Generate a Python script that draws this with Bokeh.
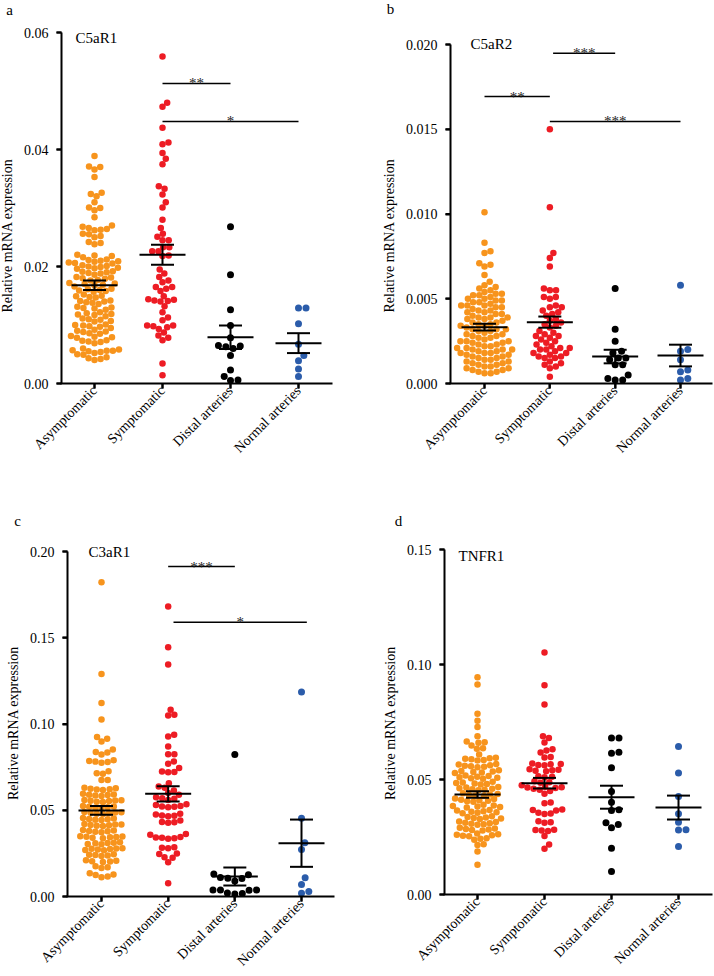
import math
from bokeh.plotting import figure
from bokeh.models import Range1d, FixedTicker, PrintfTickFormatter, Label, ColumnDataSource
from bokeh.layouts import column, row
from bokeh.embed import file_html
from bokeh.resources import INLINE
from bokeh.core.properties import value

# ---------------- data ----------------
groups = ["Asymptomatic", "Symptomatic", "Distal arteries", "Normal arteries"]
colors = ["#F7941D", "#ED1C24", "#000000", "#2B5CAA"]

# Panel a: C5aR1
asym_a = [0.0389, 0.0371, 0.0370, 0.0366, 0.0353, 0.0326, 0.0324, 0.0320, 0.0310, 0.0301,
          0.0300, 0.0296, 0.0284, 0.0270, 0.0266, 0.0263, 0.0262, 0.0264, 0.0268, 0.0256,
          0.0250, 0.0252, 0.0255, 0.0242, 0.0240, 0.0238, 0.0220, 0.0218, 0.0216, 0.0219,
          0.0212, 0.0210, 0.0209, 0.0207, 0.0206, 0.0208, 0.0211, 0.0205, 0.0201, 0.0199,
          0.0198, 0.0202, 0.0196, 0.0200, 0.0197, 0.0192, 0.0190, 0.0188, 0.0189, 0.0191,
          0.0186, 0.0182, 0.0180, 0.0179, 0.0177, 0.0181, 0.0176, 0.0172, 0.0170, 0.0168,
          0.0166, 0.0171, 0.0169, 0.0162, 0.0159, 0.0157, 0.0160, 0.0158, 0.0161, 0.0152,
          0.0149, 0.0147, 0.0150, 0.0148, 0.0142, 0.0140, 0.0138, 0.0139, 0.0141, 0.0136,
          0.0131, 0.0129, 0.0128, 0.0130, 0.0126, 0.0122, 0.0119, 0.0117, 0.0120, 0.0118,
          0.0115, 0.0111, 0.0109, 0.0107, 0.0110, 0.0106, 0.0101, 0.0099, 0.0098, 0.0100,
          0.0097, 0.0095, 0.0092, 0.0089, 0.0088, 0.0090, 0.0086, 0.0085, 0.0081, 0.0079,
          0.0078, 0.0080, 0.0074, 0.0073, 0.0071, 0.0069, 0.0072, 0.0060, 0.0057, 0.0056,
          0.0058, 0.0055, 0.0054, 0.0056, 0.0052, 0.0049, 0.0050, 0.0045, 0.0042, 0.0040,
          0.0043]
sym_a = [0.0559, 0.0480, 0.0473, 0.0437, 0.0412, 0.0409, 0.0394, 0.0384, 0.0375, 0.0337,
         0.0333, 0.0323, 0.0310, 0.0301, 0.0280, 0.0266, 0.0256, 0.0251, 0.0245, 0.0245,
         0.0233, 0.0226, 0.0226, 0.0233, 0.0219, 0.0218, 0.0195, 0.0188, 0.0182, 0.0176,
         0.0173, 0.0165, 0.0162, 0.0165, 0.0158, 0.0149, 0.0143, 0.0141, 0.0140, 0.0142,
         0.0144, 0.0132, 0.0122, 0.0113, 0.0108, 0.0099, 0.0099, 0.0096, 0.0098, 0.0093,
         0.0087, 0.0082, 0.0078, 0.0074, 0.0034, 0.0014]
dist_a = [0.0268, 0.0186, 0.0126, 0.0099, 0.0078, 0.0065, 0.0064, 0.0063, 0.0060, 0.0048,
          0.0023, 0.0012, 0.0006, 0.0005]
norm_a = [0.0129, 0.0129, 0.0102, 0.0067, 0.0048, 0.0039, 0.0025, 0.0012]
mean_a = [0.0168, 0.0220, 0.0079, 0.0069]
sem_a = [0.0008, 0.0017, 0.0020, 0.0017]

# Panel b: C5aR2
asym_b = [0.0101, 0.0083, 0.0078, 0.0077, 0.0071, 0.0070, 0.0069, 0.0064, 0.0060, 0.0058,
          0.0057, 0.0056, 0.0055, 0.0054, 0.0053, 0.0052, 0.0053, 0.0051, 0.0052, 0.0050,
          0.0049, 0.0048, 0.0049, 0.0047, 0.0048, 0.0050, 0.0046, 0.0045, 0.0046, 0.0044,
          0.0045, 0.0046, 0.0043, 0.0042, 0.0041, 0.0042, 0.0040, 0.0041, 0.0043, 0.0039,
          0.0038, 0.0039, 0.0037, 0.0038, 0.0039, 0.0036, 0.0035, 0.0034, 0.0035, 0.0033,
          0.0034, 0.0036, 0.0032, 0.0031, 0.0032, 0.0030, 0.0031, 0.0032, 0.0029, 0.0028,
          0.0027, 0.0028, 0.0026, 0.0027, 0.0029, 0.0025, 0.0024, 0.0025, 0.0023, 0.0024,
          0.0025, 0.0022, 0.0021, 0.0020, 0.0021, 0.0019, 0.0020, 0.0022, 0.0018, 0.0017,
          0.0018, 0.0016, 0.0017, 0.0018, 0.0015, 0.0014, 0.0013, 0.0014, 0.0012, 0.0013,
          0.0015, 0.0011, 0.0010, 0.0011, 0.0009, 0.0010, 0.0008, 0.0007, 0.0006, 0.0007,
          0.0012, 0.0009, 0.0008, 0.0006, 0.0016, 0.0019, 0.0020, 0.0023]
sym_b = [0.0150, 0.0104, 0.0077, 0.0074, 0.0069, 0.0056, 0.0055, 0.0055, 0.0051, 0.0051,
         0.0050, 0.0046, 0.0045, 0.0045, 0.0043, 0.0042, 0.0041, 0.0040, 0.0038, 0.0037,
         0.0036, 0.0035, 0.0034, 0.0033, 0.0031, 0.0030, 0.0029, 0.0028, 0.0028, 0.0027,
         0.0026, 0.0025, 0.0024, 0.0023, 0.0022, 0.0021, 0.0021, 0.0020, 0.0020, 0.0019,
         0.0018, 0.0018, 0.0017, 0.0016, 0.0016, 0.0015, 0.0015, 0.0013, 0.0012, 0.0011,
         0.0010, 0.0009, 0.0004]
dist_b = [0.0056, 0.0032, 0.0025, 0.0019, 0.0018, 0.0015, 0.0015, 0.0014, 0.0011, 0.0011,
          0.0005, 0.0003, 0.0002, 0.0002]
norm_b = [0.0058, 0.0020, 0.0019, 0.0014, 0.0008, 0.0007, 0.0003, 0.0002]
mean_b = [0.00332, 0.00362, 0.00159, 0.00165]
sem_b = [0.00020, 0.00033, 0.00040, 0.00064]

# Panel c: C3aR1
asym_c = [0.1822, 0.1290, 0.1122, 0.1026, 0.0924, 0.0914, 0.0899, 0.0852, 0.0837, 0.0835,
          0.0823, 0.0790, 0.0785, 0.0780, 0.0776, 0.0782, 0.0726, 0.0715, 0.0711, 0.0676,
          0.0676, 0.0630, 0.0625, 0.0620, 0.0622, 0.0628, 0.0618, 0.0595, 0.0590, 0.0585,
          0.0588, 0.0592, 0.0583, 0.0560, 0.0555, 0.0550, 0.0553, 0.0557, 0.0548, 0.0558,
          0.0525, 0.0520, 0.0515, 0.0518, 0.0522, 0.0513, 0.0490, 0.0485, 0.0480, 0.0483,
          0.0487, 0.0478, 0.0488, 0.0455, 0.0450, 0.0445, 0.0448, 0.0452, 0.0443, 0.0420,
          0.0415, 0.0410, 0.0413, 0.0417, 0.0408, 0.0418, 0.0385, 0.0380, 0.0375, 0.0378,
          0.0382, 0.0373, 0.0350, 0.0345, 0.0340, 0.0343, 0.0347, 0.0338, 0.0348, 0.0315,
          0.0310, 0.0305, 0.0308, 0.0312, 0.0303, 0.0280, 0.0275, 0.0270, 0.0273, 0.0277,
          0.0268, 0.0278, 0.0245, 0.0240, 0.0235, 0.0238, 0.0242, 0.0210, 0.0205, 0.0200,
          0.0203, 0.0207, 0.0170, 0.0175, 0.0165, 0.0135, 0.0124, 0.0112, 0.0116, 0.0128]
sym_c = [0.1681, 0.1445, 0.1345, 0.1082, 0.1053, 0.1049, 0.0937, 0.0928, 0.0870, 0.0825,
         0.0824, 0.0783, 0.0769, 0.0745, 0.0725, 0.0722, 0.0720, 0.0657, 0.0638, 0.0630,
         0.0614, 0.0600, 0.0590, 0.0575, 0.0570, 0.0566, 0.0560, 0.0535, 0.0525, 0.0520,
         0.0518, 0.0522, 0.0530, 0.0480, 0.0470, 0.0465, 0.0468, 0.0475, 0.0432, 0.0428,
         0.0430, 0.0440, 0.0362, 0.0358, 0.0342, 0.0338, 0.0335, 0.0340, 0.0345, 0.0285,
         0.0280, 0.0282, 0.0247, 0.0228, 0.0224, 0.0250, 0.0199, 0.0077]
dist_c = [0.0823, 0.0131, 0.0126, 0.0110, 0.0106, 0.0104, 0.0090, 0.0038, 0.0038, 0.0037,
          0.0036, 0.0020, 0.0017, 0.0015]
norm_c = [0.1185, 0.0454, 0.0311, 0.0272, 0.0108, 0.0070, 0.0029, 0.0019]
mean_c = [0.0499, 0.0595, 0.0116, 0.0309]
sem_c = [0.0025, 0.0044, 0.0052, 0.0137]

# Panel d: TNFR1
asym_d = [0.0945, 0.0913, 0.0786, 0.0755, 0.0728, 0.0688, 0.0665, 0.0662, 0.0660, 0.0648,
          0.0636, 0.0634, 0.0609, 0.0595, 0.0590, 0.0585, 0.0592, 0.0588, 0.0583, 0.0565,
          0.0560, 0.0555, 0.0562, 0.0558, 0.0553, 0.0567, 0.0540, 0.0535, 0.0530, 0.0537,
          0.0533, 0.0528, 0.0515, 0.0510, 0.0505, 0.0512, 0.0508, 0.0503, 0.0517, 0.0490,
          0.0485, 0.0480, 0.0487, 0.0483, 0.0478, 0.0465, 0.0460, 0.0455, 0.0462, 0.0458,
          0.0453, 0.0467, 0.0440, 0.0435, 0.0430, 0.0437, 0.0433, 0.0428, 0.0415, 0.0410,
          0.0405, 0.0412, 0.0408, 0.0403, 0.0417, 0.0390, 0.0385, 0.0380, 0.0387, 0.0383,
          0.0378, 0.0365, 0.0360, 0.0355, 0.0362, 0.0358, 0.0353, 0.0367, 0.0340, 0.0335,
          0.0330, 0.0337, 0.0333, 0.0328, 0.0315, 0.0310, 0.0305, 0.0312, 0.0308, 0.0303,
          0.0317, 0.0290, 0.0285, 0.0280, 0.0287, 0.0283, 0.0278, 0.0265, 0.0260, 0.0255,
          0.0262, 0.0258, 0.0253, 0.0245, 0.0238, 0.0242, 0.0219, 0.0215, 0.0187, 0.0129]
sym_d = [0.1052, 0.0910, 0.0826, 0.0688, 0.0680, 0.0661, 0.0632, 0.0626, 0.0617, 0.0598,
         0.0596, 0.0570, 0.0566, 0.0563, 0.0562, 0.0567, 0.0545, 0.0540, 0.0538, 0.0542,
         0.0536, 0.0514, 0.0512, 0.0510, 0.0492, 0.0488, 0.0486, 0.0475, 0.0468, 0.0466,
         0.0463, 0.0465, 0.0460, 0.0455, 0.0450, 0.0438, 0.0400, 0.0397, 0.0370, 0.0367,
         0.0365, 0.0355, 0.0352, 0.0350, 0.0314, 0.0312, 0.0318, 0.0282, 0.0278, 0.0280,
         0.0276, 0.0254, 0.0217, 0.0199]
dist_d = [0.0680, 0.0680, 0.0619, 0.0614, 0.0551, 0.0448, 0.0401, 0.0369, 0.0365, 0.0312,
          0.0304, 0.0290, 0.0201, 0.0100]
norm_d = [0.0643, 0.0528, 0.0426, 0.0351, 0.0314, 0.0281, 0.0280, 0.0209]
mean_d = [0.0435, 0.0484, 0.0423, 0.0378]
sem_d = [0.0014, 0.0023, 0.0050, 0.0052]

# significance comparisons: (from group, to group, level, stars)
sig_a = [(2.0, 3.0, 0.0513, "**"), (2.0, 4.0, 0.0448, "*")]
sig_b = [(1.0, 2.0, 0.01693, "**"), (2.05, 3.0, 0.01949, "***"), (2.0, 4.0, 0.01546, "***")]
sig_c = [(2.0, 3.0, 0.1913, "***"), (2.08, 4.08, 0.1590, "*")]
sig_d = []

FONT = "Liberation Serif"


def swarm(vals, ppu_y, d):
    ys = [v * ppu_y for v in vals]
    order = sorted(range(len(vals)), key=lambda i: ys[i])
    placed = []
    xs = [0.0] * len(vals)
    for i in order:
        y = ys[i]
        nb = [(px, py) for px, py in placed if abs(py - y) < d]
        cands = [0.0]
        for px, py in nb:
            dx = math.sqrt(max(d * d - (py - y) ** 2, 0.0))
            cands += [px + dx, px - dx]
        cands.sort(key=abs)
        chosen = 0.0
        for c in cands:
            if all((c - px) ** 2 + (y - py) ** 2 >= d * d - 1e-6 for px, py in nb):
                chosen = c
                break
        xs[i] = chosen
        placed.append((chosen, y))
    return xs


def clear_bg(ax):
    for name in ("background_fill_color", "major_label_background_fill_color",
                 "axis_label_background_fill_color"):
        if hasattr(ax, name):
            setattr(ax, name, None)


def panel(series, means, sems, ymax, yticks, fmt, geo, letter, letter_px, gene, gene_px, sigs):
    # geo: page-pixel layout (figure box, axis corner, reference tick pixels)
    fx, fy, w, h = geo["fx"], geo["fy"], geo["w"], geo["h"]
    t1, t4, y0 = geo["t1"], geo["t4"], geo["y0"]
    ppu_x = (t4 - t1) / 3.0
    ppu_y = (y0 - geo["ytop"]) / ymax

    def dx(px):
        return 1 + (px - t1) / ppu_x

    def dy(py):
        return (y0 - py) / ppu_y

    p = figure(width=w, height=h, x_range=Range1d(dx(fx), dx(fx + w)), y_range=Range1d(dy(fy + h), dy(fy)),
               output_backend="svg", toolbar_location=None,
               min_border_left=0, min_border_right=0, min_border_top=0, min_border_bottom=0)
    p.outline_line_color = None
    p.xgrid.visible = False
    p.ygrid.visible = False
    p.background_fill_color = "white"
    p.border_fill_color = "white"

    for gi, vals in enumerate(series):
        sz = 6.5 if gi < 2 else 7.0
        offs = swarm(vals, ppu_y, 6.2 if gi < 2 else 7.5)
        xs = [gi + 1 + o / ppu_x for o in offs]
        p.scatter(xs, vals, size=sz, fill_color=colors[gi], line_color=None)

    # mean and SEM
    hw = 23.0 / ppu_x
    cw = 11.5 / ppu_x
    gx = [1, 2, 3, 4]
    hi = [m + s for m, s in zip(means, sems)]
    lo = [m - s for m, s in zip(means, sems)]
    p.segment([g - hw for g in gx], means, [g + hw for g in gx], means, line_color="black", line_width=2)
    p.segment(gx, lo, gx, hi, line_color="black", line_width=2)
    p.segment([g - cw for g in gx], hi, [g + cw for g in gx], hi, line_color="black", line_width=2)
    p.segment([g - cw for g in gx], lo, [g + cw for g in gx], lo, line_color="black", line_width=2)

    # significance bars
    if sigs:
        p.segment([s[0] for s in sigs], [s[2] for s in sigs], [s[1] for s in sigs], [s[2] for s in sigs],
                  line_color="black", line_width=1.5)
        src = ColumnDataSource(dict(x=[(s[0] + s[1]) / 2 for s in sigs], y=[s[2] for s in sigs],
                                    t=[s[3] for s in sigs]))
        p.text(x="x", y="y", text="t", source=src, text_align="center", text_baseline="alphabetic",
               text_font=value(FONT), text_font_size="15px", text_color="#222222")

    # axes: Bokeh axes fixed at the axis corner give ticks and labels
    ax_x = dx(geo["ax"])
    for ax in (p.xaxis[0], p.yaxis[0]):
        clear_bg(ax)
        ax.axis_line_color = None
        ax.major_tick_line_width = 2
        ax.major_tick_line_color = "black"
        ax.major_tick_in = 0
        ax.major_tick_out = 5
        ax.minor_tick_line_color = None
        ax.major_label_text_font = FONT
        ax.major_label_text_font_size = "14px"
        ax.major_label_text_color = "black"
    yax = p.yaxis[0]
    yax.fixed_location = ax_x
    yax.ticker = FixedTicker(ticks=yticks)
    yax.formatter = PrintfTickFormatter(format=fmt)
    yax.major_label_standoff = 8
    yax.axis_label = "Relative mRNA expression"
    yax.axis_label_text_font = FONT
    yax.axis_label_text_font_size = "14px"
    yax.axis_label_text_font_style = "normal"
    yax.axis_label_text_color = "black"
    yax.axis_label_standoff = 6
    xax = p.xaxis[0]
    xax.fixed_location = 0
    xax.ticker = FixedTicker(ticks=[1, 2, 3, 4])
    xax.major_label_overrides = {1: groups[0], 2: groups[1], 3: groups[2], 4: groups[3]}
    xax.major_label_orientation = math.pi / 4
    xax.major_label_standoff = 0

    # axis rules and tick marks along the axis extents, drawn on top of everything
    rules = [
        p.segment([ax_x], [0], [ax_x], [ymax], line_color="black", line_width=2),
        p.segment([dx(geo["ax"] - 1)], [0], [dx(geo["axr"])], [0], line_color="black", line_width=2),
        p.segment([dx(geo["ax"] - 5)] * len(yticks), yticks, [ax_x] * len(yticks), yticks,
                  line_color="black", line_width=2),
        p.segment(gx, [0] * 4, gx, [dy(y0 + 5)] * 4, line_color="black", line_width=2),
    ]
    for r in rules:
        r.level = "overlay"

    p.add_layout(Label(x=dx(letter_px[0]), y=dy(letter_px[1]), text=letter, text_font=FONT,
                       text_font_size="15px", text_align="center", text_baseline="middle",
                       text_color="black"))
    p.add_layout(Label(x=dx(gene_px[0]), y=dy(gene_px[1]), text=gene, text_font=FONT,
                       text_font_size="15px", text_align="left", text_baseline="middle",
                       text_color="black"))
    return p


# page geometry in pixels (layout only)
geo_a = dict(fx=0, fy=0, w=340, h=470, t1=94, t4=298, ax=61, axr=332, y0=383, ytop=32)
geo_b = dict(fx=340, fy=0, w=374, h=470, t1=484, t4=680, ax=450, axr=712, y0=383, ytop=44)
geo_c = dict(fx=0, fy=470, w=340, h=505, t1=101, t4=301, ax=67, axr=334, y0=896, ytop=551)
geo_d = dict(fx=340, fy=470, w=374, h=505, t1=477, t4=678, ax=444, axr=712, y0=894, ytop=549)

pa = panel([asym_a, sym_a, dist_a, norm_a], mean_a, sem_a, 0.06, [0, 0.02, 0.04, 0.06], "%.2f",
           geo_a, "a", (9, 9), "C5aR1", (75, 37), sig_a)
pb = panel([asym_b, sym_b, dist_b, norm_b], mean_b, sem_b, 0.02, [0, 0.005, 0.01, 0.015, 0.02], "%.3f",
           geo_b, "b", (390, 8), "C5aR2", (470, 43), sig_b)
pc = panel([asym_c, sym_c, dist_c, norm_c], mean_c, sem_c, 0.20, [0, 0.05, 0.10, 0.15, 0.20], "%.2f",
           geo_c, "c", (17, 520), "C3aR1", (88, 551), sig_c)
pd_ = panel([asym_d, sym_d, dist_d, norm_d], mean_d, sem_d, 0.15, [0, 0.05, 0.10, 0.15], "%.2f",
            geo_d, "d", (398, 520), "TNFR1", (458, 555), sig_d)

layout = column(row(pa, pb), row(pc, pd_))
open("out.html", "w").write(file_html(layout, INLINE))
